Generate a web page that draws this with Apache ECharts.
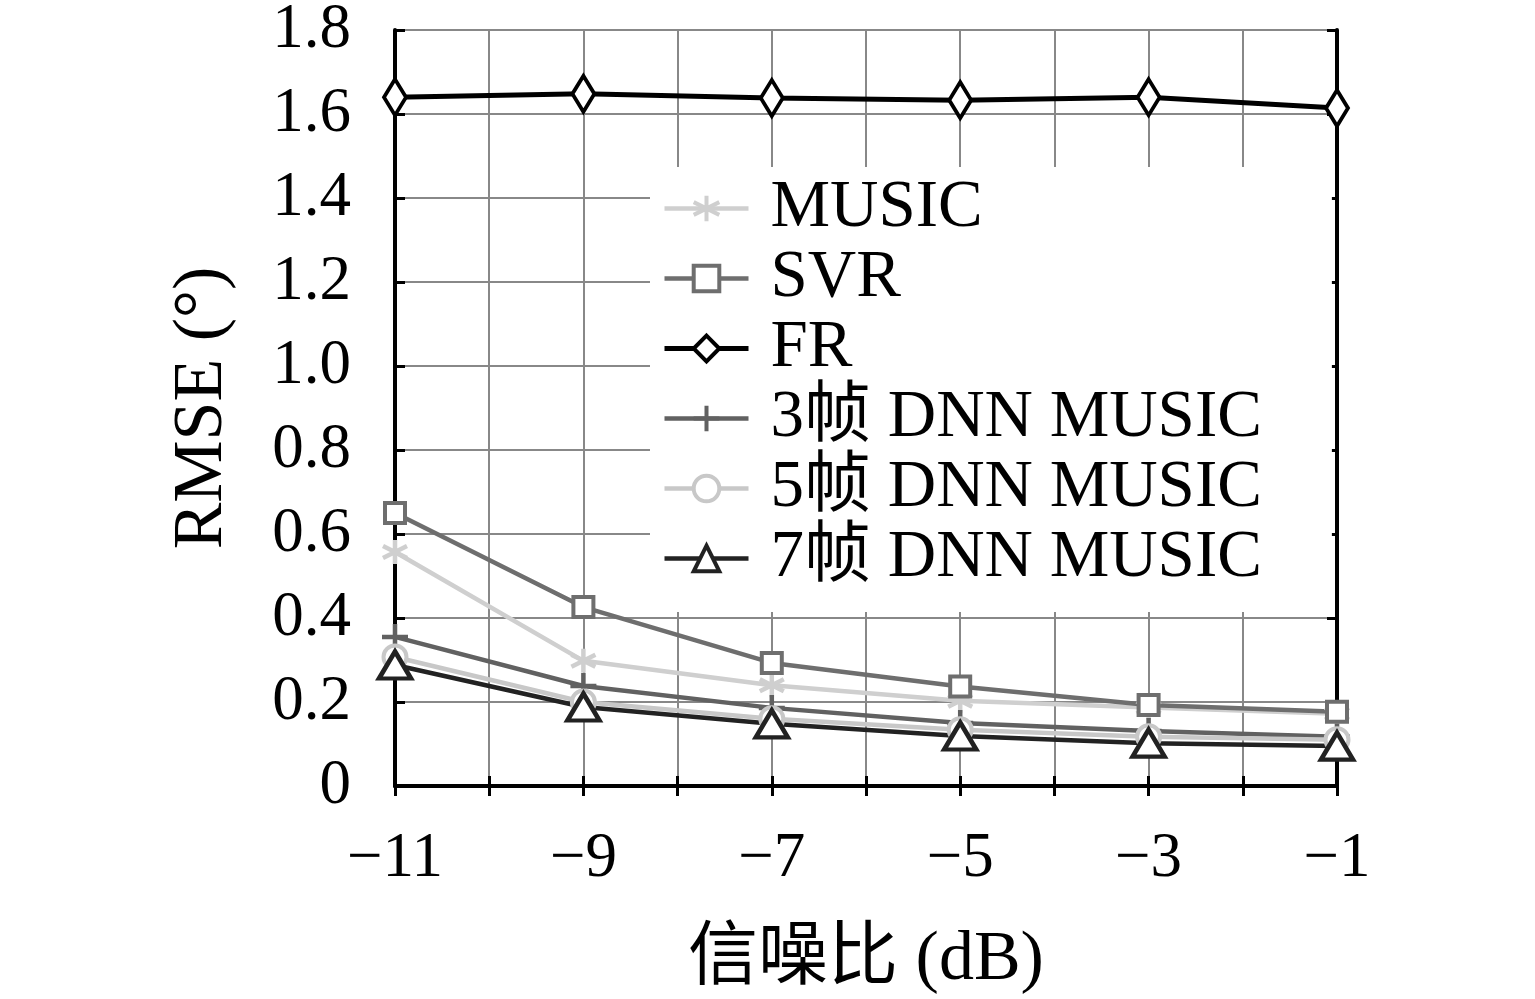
<!DOCTYPE html>
<html>
<head>
<meta charset="utf-8">
<script src="https://cdn.jsdelivr.net/npm/echarts@6/dist/echarts.min.js"></script>
<style>
  html, body { margin: 0; padding: 0; background: #fff; }
  #chart { width: 1535px; height: 999px; }
</style>
</head>
<body>
<div id="chart"></div>
<script>
const snr = [-11, -9, -7, -5, -3, -1];
const music = [0.557, 0.298, 0.240, 0.203, 0.187, 0.172];
const svr = [0.650, 0.426, 0.293, 0.237, 0.193, 0.177];
const fr = [1.640, 1.648, 1.638, 1.633, 1.640, 1.614];
const dnn3 = [0.355, 0.238, 0.186, 0.150, 0.131, 0.117];
const dnn5 = [0.307, 0.200, 0.160, 0.134, 0.117, 0.110];
const dnn7 = [0.288, 0.188, 0.148, 0.119, 0.102, 0.095];
const names = ['MUSIC', 'SVR', 'FR', '3帧 DNN MUSIC', '5帧 DNN MUSIC', '7帧 DNN MUSIC'];

const font = "'Liberation Serif', 'Noto Sans CJK SC', serif";
const asterisk = 'path://M0,-1L0,1M-0.87,-0.5L0.87,0.5M-0.87,0.5L0.87,-0.5';
const plus = 'path://M0,-1L0,1M-1,0L1,0';

function pairs (ys) {
  return ys.map((v, i) => [snr[i], v]);
}

function mkSeries (name, ys, color, symbol, size, lw, bw) {
  return {
    name: name,
    type: 'line',
    data: pairs(ys),
    symbol: symbol,
    symbolSize: size,
    lineStyle: { color: color, width: lw },
    itemStyle: { color: '#fff', borderColor: color, borderWidth: bw },
    emphasis: { disabled: true },
    animation: false
  };
}

const chart = echarts.init(document.getElementById('chart'));

const minus = v => (v < 0 ? '\u2212' + Math.abs(v) : String(v));

chart.setOption({
  backgroundColor: '#fff',
  grid: { left: 395, top: 30, width: 942, height: 756, outerBoundsMode: 'none', containLabel: false },
  legend: {
    orient: 'vertical',
    left: 650,
    top: 167,
    padding: [8, 70, 20, 12],
    backgroundColor: '#fff',
    itemWidth: 84,
    itemHeight: 32,
    itemGap: 3,
    data: names.map((n, i) => ({
      name: n,
      lineStyle: { width: i === 2 ? 5 : 4.5 },
      itemStyle: { borderWidth: 4 }
    })),
    textStyle: {
      fontFamily: font,
      fontSize: 67,
      lineHeight: 64,
      color: '#000',
      padding: [0, 0, 0, 17]
    }
  },
  xAxis: [
    {
      type: 'value',
      min: -11,
      max: -1,
      interval: 1,
      axisLine: { lineStyle: { color: '#000', width: 4 } },
      axisTick: { inside: true, length: 10, lineStyle: { color: '#000', width: 3 } },
      splitLine: { show: true, lineStyle: { color: '#888', width: 2 } },
      axisLabel: {
        margin: 42,
        fontFamily: font,
        fontSize: 63,
        color: '#000',
        formatter: v => (Math.abs(v) % 2 === 1 ? minus(v) : '')
      },
      name: '信噪比 (dB)',
      nameLocation: 'middle',
      nameGap: 140,
      nameTextStyle: { fontFamily: font, fontSize: 70, color: '#000' }
    },
    {
      type: 'value',
      position: 'top',
      min: -11,
      max: -1,
      interval: 1,
      axisLine: { lineStyle: { color: '#000', width: 4 } },
      axisTick: { inside: true, length: 10, lineStyle: { color: '#000', width: 3 } },
      splitLine: { show: false },
      axisLabel: { show: false }
    }
  ],
  yAxis: [
    {
      type: 'value',
      min: 0,
      max: 1.8,
      interval: 0.2,
      axisLine: { show: true, lineStyle: { color: '#000', width: 4 } },
      axisTick: { show: true, inside: true, length: 10, lineStyle: { color: '#000', width: 3 } },
      splitLine: { show: true, lineStyle: { color: '#888', width: 2 } },
      axisLabel: {
        margin: 44,
        fontFamily: font,
        fontSize: 63,
        color: '#000',
        formatter: v => (v === 0 ? '0' : v.toFixed(1))
      },
      name: 'RMSE (°)',
      nameLocation: 'middle',
      nameGap: 157,
      nameTextStyle: { fontFamily: font, fontSize: 70, color: '#000' }
    },
    {
      type: 'value',
      position: 'right',
      min: 0,
      max: 1.8,
      interval: 0.2,
      axisLine: { show: true, lineStyle: { color: '#000', width: 4 } },
      axisTick: { show: true, inside: true, length: 10, lineStyle: { color: '#000', width: 3 } },
      splitLine: { show: false },
      axisLabel: { show: false }
    }
  ],
  series: [
    mkSeries(names[0], music, '#cfcfcf', asterisk, 24, 4.5, 4.5),
    mkSeries(names[1], svr, '#6e6e6e', 'rect', 20, 4.5, 4),
    mkSeries(names[2], fr, '#000000', 'diamond', [22, 36], 5, 4),
    mkSeries(names[3], dnn3, '#616161', plus, 26, 4.5, 4.5),
    mkSeries(names[4], dnn5, '#c8c8c8', 'circle', 23, 4.5, 4),
    mkSeries(names[5], dnn7, '#222222', 'triangle', [32, 27], 4.5, 4.5)
  ]
});
</script>
</body>
</html>
